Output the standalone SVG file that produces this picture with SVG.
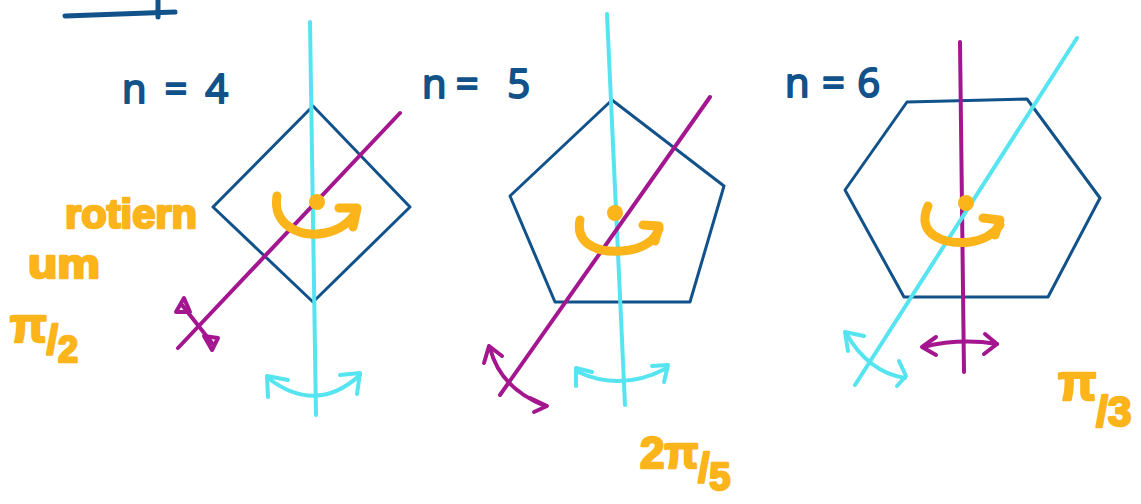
<svg xmlns="http://www.w3.org/2000/svg" width="1141" height="504" viewBox="0 0 1141 504">
<style>
.shape{fill:none;stroke:#12528a;stroke-width:3;stroke-linejoin:round}
.cy{fill:none;stroke:#55e4f0;stroke-width:4;stroke-linecap:round;stroke-linejoin:round}
.pu{fill:none;stroke:#a3168f;stroke-width:4;stroke-linecap:round;stroke-linejoin:round}
.or{fill:none;stroke:#fbb41a;stroke-width:9;stroke-linecap:round;stroke-linejoin:round}
.dot{fill:#fbb41a}
.nl{font-family:"Open Sans","Liberation Sans",sans-serif;font-size:40px;fill:#12528a;stroke:#12528a;stroke-width:2;stroke-linejoin:round}
.ol{font-family:"Liberation Sans",sans-serif;font-weight:bold;fill:#fbb41a;stroke:#fbb41a;stroke-width:2.5;stroke-linejoin:round}
.ul{fill:none;stroke:#12528a;stroke-width:5;stroke-linecap:round}
</style>
<rect width="1141" height="504" fill="#ffffff"/>
<g id="heading">
<path class="ul" d="M65,16 L175,12"/>
<path class="ul" d="M158,0 L158,17"/>
</g>
<g id="square">
<polygon class="shape" points="313,106 410,207 313,302 213,207"/>
<text class="nl" x="122" y="103" textLength="106" lengthAdjust="spacing">n=4</text>
</g>
<g id="pentagon">
<polygon class="shape" points="612,100 724,186 690,302 555,302 510,196"/>
<text class="nl" x="422" y="98" textLength="108" lengthAdjust="spacing">n= 5</text>
</g>
<g id="hexagon">
<polygon class="shape" points="907,102 1027,99 1100,198 1048,297 904,297 845,190"/>
<text class="nl" x="785" y="97" textLength="95" lengthAdjust="spacing">n=6</text>
</g>
<g id="connectors">
<!-- n=4 -->
<path class="cy" d="M310,22 L316,415"/>
<path class="pu" d="M400,113 L178,348"/>
<path class="cy" d="M268,378 Q316,415 360,375"/>
<path class="cy" d="M268,397 L267,376 L288,380"/>
<path class="cy" d="M340,375 L360,373 L357,394"/>
<path class="pu" d="M182,305 L212,343"/>
<polygon class="pu" fill="#a3168f" points="176,312 184,298 190,312"/>
<polygon class="pu" fill="#a3168f" points="204,336 218,338 212,350"/>
<path class="or" d="M277,196 C272,225 300,238 325,233 C340,230 350,222 356,212"/>
<path class="or" d="M339,208 L357,208 L353,227"/>
<circle class="dot" cx="317" cy="202" r="8"/>
<!-- n=5 -->
<path class="cy" d="M607,14 L625,405"/>
<path class="pu" d="M710,97 L500,395"/>
<path class="cy" d="M578,372 Q622,392 667,368"/>
<path class="cy" d="M576,386 L576,368 L592,372"/>
<path class="cy" d="M652,366 L668,365 L664,382"/>
<path class="pu" d="M490,348 Q500,388 545,406"/>
<path class="pu" d="M484,363 L489,346 L502,356"/>
<path class="pu" d="M530,398 L547,406 L534,412"/>
<path class="or" d="M580,220 C575,245 600,255 630,250 C645,247 655,240 659,229"/>
<path class="or" d="M643,225 L659,226 L655,241"/>
<circle class="dot" cx="615" cy="213" r="8"/>
<!-- n=6 -->
<path class="pu" d="M960,42 L964,372"/>
<path class="cy" d="M1077,38 L855,385"/>
<path class="cy" d="M846,333 Q868,372 905,378"/>
<path class="cy" d="M848,351 L845,332 L864,336"/>
<path class="cy" d="M899,361 L906,376 L897,386"/>
<path class="pu" d="M923,347 Q960,338 997,344"/>
<path class="pu" d="M936,337 L922,347 L936,355"/>
<path class="pu" d="M985,334 L997,344 L984,354"/>
<path class="or" d="M928,206 C915,235 945,245 970,242 C985,240 995,232 1000,225"/>
<path class="or" d="M983,218 L1000,220 L995,235"/>
<circle class="dot" cx="966" cy="203" r="8"/>
</g>
<g id="labels">
<text class="ol" x="65" y="228" font-size="40" textLength="132" lengthAdjust="spacingAndGlyphs">rotiern</text>
<text class="ol" x="28" y="278" font-size="40" textLength="72" lengthAdjust="spacingAndGlyphs">um</text>
<text class="ol" x="10" y="342" font-size="48">π<tspan dy="12" font-size="40">/</tspan><tspan dy="8" font-size="36">2</tspan></text>
<text class="ol" x="640" y="468" font-size="44">2π<tspan dy="14" font-size="40">/</tspan><tspan dy="8" font-size="38">5</tspan></text>
<text class="ol" x="1058" y="400" font-size="50">π<tspan dy="26" font-size="42">/3</tspan></text>
</g>
</svg>
